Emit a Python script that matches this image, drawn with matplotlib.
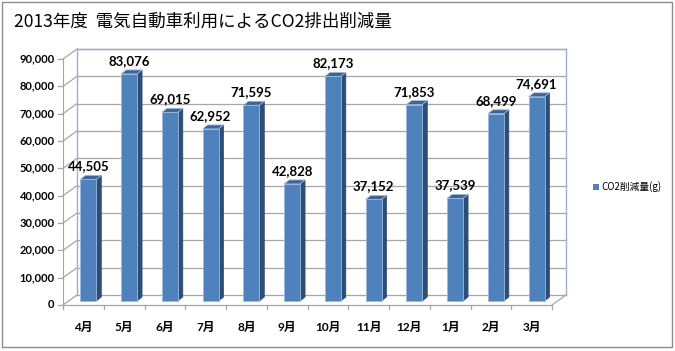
import matplotlib
matplotlib.use("Agg")
import matplotlib.pyplot as plt
from matplotlib.patches import Polygon, Rectangle, Patch
from matplotlib.lines import Line2D
from matplotlib.transforms import ScaledTranslation
import numpy as np

plt.rcParams['font.family'] = ['Noto Sans CJK JP', 'DejaVu Sans']

months = ['4月', '5月', '6月', '7月', '8月', '9月', '10月', '11月', '12月', '1月', '2月', '3月']
values = [44505, 83076, 69015, 62952, 71595, 42828, 82173, 37152, 71853, 37539, 68499, 74691]
yticks = [0, 10000, 20000, 30000, 40000, 50000, 60000, 70000, 80000, 90000]
title = '2013年度  電気自動車利用によるCO2排出削減量'
legend_label = 'CO2削減量(g)'

W, H = 675, 351
fig = plt.figure(figsize=(W / 100, H / 100), dpi=100)
fig.patch.set_facecolor('white')

ax = fig.add_axes([63 / W, 1 - 305 / H, (552 - 63) / W, (305 - 59) / H])
ax.set_xlim(-0.5, len(months) - 0.5)
ax.set_ylim(0, 90000)
ax.axis('off')

num_font = ['Lato', 'Noto Sans CJK JP']

WDX, WDY = 14, 10
BDX, BDY = 5, 4
BD2X, BD2Y = 5, 4

inv = fig.transFigure.inverted()


def px(x, y, dx=0, dy=0):
    p = ax.transData.transform((x, y))
    return (p[0] + dx, p[1] + dy)


def fpoly(pts, **kw):
    fp = inv.transform(np.array(pts))
    ax.add_patch(Polygon(fp, closed=True, transform=fig.transFigure, clip_on=False, **kw))


def fline(p1, p2, **kw):
    fp = inv.transform(np.array([p1, p2]))
    ax.add_line(Line2D(fp[:, 0], fp[:, 1], transform=fig.transFigure, clip_on=False, **kw))


x0, x1 = -0.5, len(months) - 0.5
grid_c = '#A6A6A6'
wall_c = '#9EB0C8'

for t in yticks:
    fline(px(x0, t, WDX, WDY), px(x1, t, WDX, WDY), color=grid_c, lw=0.9, zorder=1)
    fline(px(x0, t), px(x0, t, WDX, WDY), color=grid_c, lw=0.9, zorder=1)
    fline(px(x0, t, -5, 0), px(x0, t), color=grid_c, lw=0.9, zorder=1)
    ax.annotate(f'{t:,}', xy=(x0, t), xytext=(-6, 0), textcoords='offset points',
                ha='right', va='center', fontsize=8, fontweight='bold', family=num_font,
                annotation_clip=False)

fline(px(x0, 0, WDX, WDY), px(x0, 90000, WDX, WDY), color=wall_c, lw=1.0, zorder=1)
fline(px(x1, 0, WDX, WDY), px(x1, 90000, WDX, WDY), color=wall_c, lw=1.0, zorder=1)
fline(px(x0, 90000, WDX, WDY), px(x1, 90000, WDX, WDY), color=wall_c, lw=1.0, zorder=1)
fline(px(x0, 0), px(x0, 90000), color=grid_c, lw=0.8, zorder=1)
fline(px(x0, 0), px(x1, 0), color=grid_c, lw=0.9, zorder=1)
fline(px(x1, 0), px(x1, 0, WDX, WDY), color=grid_c, lw=0.9, zorder=1)
for i in range(len(months) + 1):
    xb = i - 0.5
    fline(px(xb, 0), px(xb, 0, 0, -4), color=grid_c, lw=0.9, zorder=1)

bw = 0.39
front_c = '#4F81BD'
side_c = '#2C4D75'
top_c = '#3E6496'
edge_c = '#9DB9DE'
for i, v in enumerate(values):
    xl, xr = i - bw / 2, i + bw / 2
    fpoly([px(xr, 0, BDX, BDY), px(xr, v, BDX, BDY), px(xr, v, BDX + BD2X, BDY + BD2Y),
           px(xr, 0, BDX + BD2X, BDY + BD2Y)], facecolor=side_c, edgecolor=side_c, lw=0.5, zorder=3)
    fpoly([px(xl, v, BDX, BDY), px(xr, v, BDX, BDY), px(xr, v, BDX + BD2X, BDY + BD2Y),
           px(xl, v, BDX + BD2X, BDY + BD2Y)], facecolor=top_c, edgecolor=edge_c, lw=0.6, zorder=3)

off = ScaledTranslation(BDX / 100, BDY / 100, fig.dpi_scale_trans)
ax.bar(range(len(values)), values, width=bw, color=front_c, edgecolor=edge_c, linewidth=0.6,
       transform=ax.transData + off, zorder=4, clip_on=False)

for i, v in enumerate(values):
    ax.annotate(f'{v:,}', xy=(i, v), xytext=(BDX * 0.72, (BDY + BD2Y + 3) * 0.72),
                textcoords='offset points', ha='center', va='bottom',
                fontsize=9.5, fontweight='bold', family=num_font, annotation_clip=False,
                zorder=5)

for i, m in enumerate(months):
    ax.annotate(m, xy=(i, 0), xytext=(0, -16), textcoords='offset points',
                ha='center', va='center', fontsize=8.5, fontweight='bold', family=num_font,
                annotation_clip=False)

fig.text(14 / W, 1 - 22 / H, title, fontsize=12.6, ha='left', va='center')

fig.legend(handles=[Patch(facecolor=front_c, label=legend_label)], loc='center left',
           bbox_to_anchor=(589 / W, 1 - 187 / H), frameon=False, handlelength=0.6,
           handleheight=0.6, handletextpad=0.3, fontsize=7, borderaxespad=0)

fig.add_artist(Rectangle((2 / W, 1 - 347 / H), 670 / W, 345 / H, transform=fig.transFigure,
                         fill=False, edgecolor='#8C8C8C', lw=1.0))

fig.savefig('out.png', dpi=100)
